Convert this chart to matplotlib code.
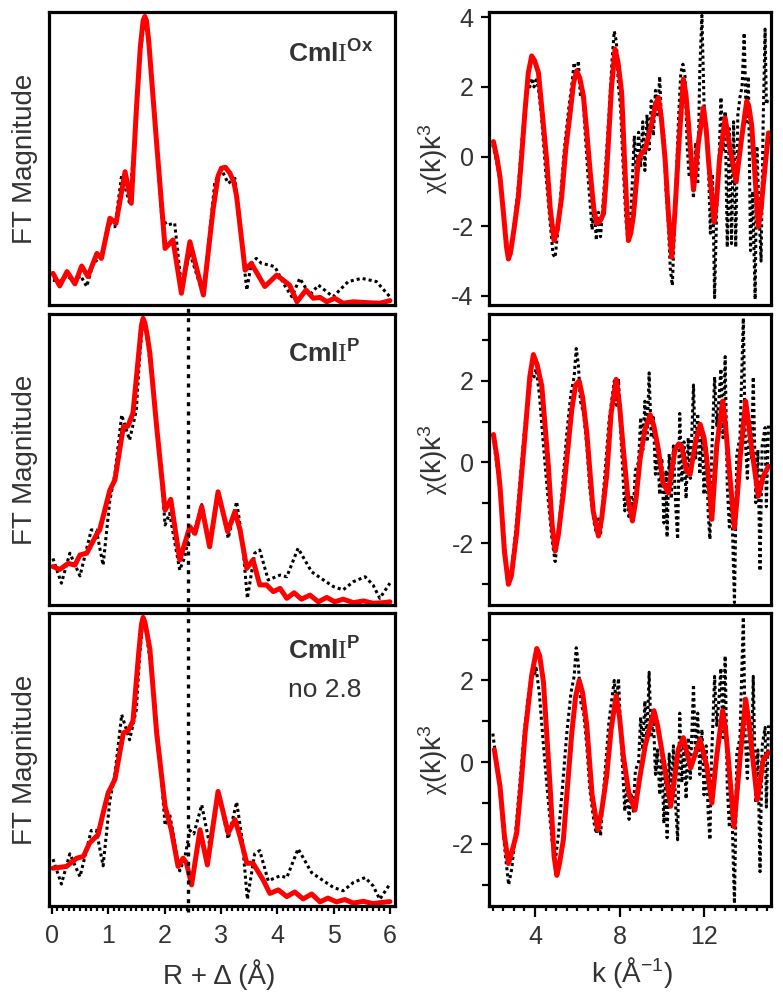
import numpy as np
import matplotlib
matplotlib.use('Agg')
from matplotlib import pyplot as plt
from matplotlib.ticker import MultipleLocator

plt.rcParams['font.family'] = ['Liberation Sans', 'DejaVu Sans']
plt.rcParams['mathtext.fontset'] = 'custom'
plt.rcParams['mathtext.rm'] = 'Liberation Sans'
plt.rcParams['mathtext.bf'] = 'Liberation Sans:bold'
plt.rcParams['mathtext.it'] = 'Liberation Sans:italic'
plt.rcParams['mathtext.sf'] = 'Liberation Serif'
plt.rcParams['axes.unicode_minus'] = False

# ---- FT magnitude (left column), arbitrary units ----
ft_ox_data_r = [0.02, 0.14, 0.27, 0.39, 0.51, 0.62, 0.73, 0.88, 1.0, 1.12, 1.24, 1.38, 1.5, 1.57, 1.65, 1.70,
                1.8, 1.95, 2.04, 2.18, 2.3, 2.45, 2.69, 2.89, 3.0, 3.13, 3.25, 3.34, 3.46, 3.54, 3.63, 3.72,
                3.87, 3.96, 4.11, 4.26, 4.4, 4.58, 4.73, 4.99, 5.26, 5.5, 5.76, 6.0]
ft_ox_data_mag = [0.085, 0.08, 0.10, 0.08, 0.10, 0.063, 0.142, 0.165, 0.279, 0.267, 0.444, 0.347, 0.64, 0.86, 0.984, 0.92,
                  0.72, 0.30, 0.273, 0.279, 0.063, 0.176, 0.034, 0.415, 0.467, 0.415, 0.432, 0.267, 0.051, 0.142, 0.159, 0.142,
                  0.136, 0.13, 0.074, 0.028, 0.091, 0.034, 0.068, 0.028, 0.08, 0.091, 0.08, 0.028]
ft_ox_fit_r = [0.02, 0.14, 0.27, 0.41, 0.53, 0.64, 0.80, 0.88, 1.03, 1.14, 1.30, 1.41, 1.50, 1.57, 1.62, 1.65, 1.68, 1.72,
               1.80, 1.86, 2.01, 2.15, 2.30, 2.45, 2.69, 2.86, 2.95, 3.01, 3.08, 3.16, 3.23, 3.28, 3.43, 3.54, 3.78,
               3.99, 4.22, 4.35, 4.51, 4.64, 4.76, 4.88, 5.02, 5.17, 5.35, 5.59, 5.82, 6.0]
ft_ox_fit_mag = [0.108, 0.065, 0.114, 0.072, 0.133, 0.097, 0.176, 0.159, 0.296, 0.279, 0.455, 0.347, 0.666, 0.88, 0.97, 0.985, 0.97, 0.90,
                 0.70, 0.552, 0.193, 0.222, 0.040, 0.216, 0.034, 0.324, 0.44, 0.467, 0.47, 0.450, 0.42, 0.37, 0.119, 0.142, 0.063,
                 0.102, 0.068, 0.011, 0.051, 0.023, 0.026, 0.011, 0.023, 0.006, 0.011, 0.008, 0.006, 0.015]

ft_p_data_r = [0.02, 0.17, 0.32, 0.50, 0.70, 0.79, 0.91, 1.03, 1.12, 1.24, 1.38, 1.5, 1.56, 1.62, 1.68, 1.77,
               1.92, 2.01, 2.09, 2.27, 2.36, 2.45, 2.52, 2.66, 2.80, 2.95, 3.13, 3.28, 3.38, 3.47, 3.60, 3.69,
               3.84, 4.05, 4.17, 4.37, 4.61, 4.82, 5.0, 5.17, 5.35, 5.56, 5.70, 5.82, 6.0]
ft_p_data_mag = [0.160, 0.075, 0.178, 0.10, 0.258, 0.258, 0.137, 0.36, 0.45, 0.653, 0.567, 0.67, 0.86, 0.985, 0.93, 0.796,
                 0.498, 0.275, 0.315, 0.12, 0.166, 0.258, 0.246, 0.345, 0.21, 0.395, 0.229, 0.355, 0.223, 0.023, 0.178, 0.189,
                 0.086, 0.103, 0.097, 0.195, 0.114, 0.086, 0.063, 0.052, 0.08, 0.097, 0.069, 0.023, 0.075]
ft_p_fit_r = [0.02, 0.14, 0.29, 0.41, 0.50, 0.62, 0.79, 0.85, 1.03, 1.12, 1.27, 1.35, 1.44, 1.54, 1.59, 1.62, 1.65, 1.69,
              1.74, 1.86, 2.01, 2.11, 2.27, 2.45, 2.54, 2.66, 2.80, 2.95, 3.12, 3.25, 3.34, 3.46, 3.57, 3.69, 3.81,
              3.93, 4.05, 4.17, 4.30, 4.43, 4.58, 4.73, 4.88, 5.02, 5.17, 5.35, 5.53, 5.70, 5.88, 6.0]
ft_p_fit_mag = [0.132, 0.122, 0.143, 0.137, 0.172, 0.178, 0.241, 0.258, 0.395, 0.43, 0.613, 0.615, 0.659, 0.86, 0.96, 0.985, 0.97, 0.93,
                0.865, 0.613, 0.326, 0.363, 0.155, 0.269, 0.246, 0.338, 0.20, 0.389, 0.252, 0.321, 0.258, 0.126, 0.155, 0.069, 0.069,
                0.046, 0.057, 0.023, 0.042, 0.02, 0.034, 0.011, 0.026, 0.011, 0.02, 0.008, 0.014, 0.006, 0.008, 0.011]

ft_p28_fit_r = [0.02, 0.26, 0.44, 0.56, 0.67, 0.82, 0.91, 1.0, 1.12, 1.27, 1.35, 1.44, 1.54, 1.59, 1.62, 1.65, 1.69, 1.74, 1.86,
                2.01, 2.12, 2.24, 2.33, 2.39, 2.48, 2.63, 2.76, 2.95, 3.13, 3.25, 3.34, 3.46, 3.57, 3.75, 3.87,
                4.02, 4.17, 4.31, 4.46, 4.61, 4.76, 4.90, 5.05, 5.20, 5.35, 5.53, 5.70, 5.85, 6.0]
ft_p28_fit_mag = [0.129, 0.135, 0.163, 0.169, 0.215, 0.243, 0.317, 0.386, 0.432, 0.591, 0.597, 0.631, 0.86, 0.96, 0.985, 0.97, 0.93, 0.877, 0.591,
                  0.34, 0.26, 0.135, 0.163, 0.146, 0.072, 0.26, 0.14, 0.391, 0.249, 0.295, 0.237, 0.146, 0.146, 0.089, 0.043,
                  0.055, 0.032, 0.048, 0.024, 0.041, 0.014, 0.027, 0.014, 0.022, 0.01, 0.016, 0.008, 0.012, 0.015]

# ---- chi(k)k^3 (right column) ----
chi_ox_data_k = [2.0, 2.2, 2.4, 2.6, 2.75, 2.85, 3.0, 3.2, 3.4, 3.55, 3.65, 3.75, 3.85, 3.95, 4.05, 4.15, 4.3, 4.5,
                 4.7, 4.85, 4.95, 5.05, 5.2, 5.4, 5.6, 5.75, 5.85, 5.95, 6.05, 6.15, 6.25, 6.35, 6.5, 6.6, 6.7, 6.8,
                 6.9, 7.0, 7.1, 7.2, 7.35, 7.5, 7.65, 7.75, 7.85, 7.95, 8.05, 8.15, 8.3, 8.4, 8.5, 8.6, 8.7, 8.8,
                 8.9, 9.0, 9.1, 9.2, 9.3, 9.4, 9.5, 9.6, 9.7, 9.8, 9.9, 10.0, 10.1, 10.2, 10.3, 10.4, 10.5, 10.6,
                 10.7, 10.8, 10.9, 11.0, 11.1, 11.2, 11.3, 11.4, 11.5, 11.6, 11.7, 11.8, 11.9, 12.0, 12.1, 12.2,
                 12.3, 12.4, 12.5, 12.6, 12.7, 12.8, 12.9, 13.0, 13.1, 13.2, 13.3, 13.4, 13.5, 13.6, 13.7, 13.8,
                 13.9, 14.0, 14.1, 14.2, 14.3, 14.42, 14.5, 14.6, 14.7, 14.8, 14.89, 14.95, 15.05]
chi_ox_data = [0.35, -0.2, -0.9, -2.2, -2.9, -2.8, -2.0, -0.9, 0.6, 1.6, 2.2, 2.0, 2.25, 2.0, 2.2, 2.0, 1.2, -0.4,
               -1.8, -2.8, -2.9, -2.3, -1.2, 0.3, 1.4, 2.1, 2.7, 2.2, 2.75, 1.7, 2.0, 0.9, -0.5, -1.3, -2.1, -1.4,
               -2.4, -1.6, -2.3, -1.5, -0.2, 1.2, 2.8, 3.6, 3.3, 2.0, 1.4, 0.0, -1.8, -2.45, -2.0, -0.8, 0.6, -0.6,
               0.7, -0.3, 1.0, -0.4, 1.2, 0.2, 1.6, 0.6, 1.9, 1.2, 2.3, 0.8, 0.6, -1.0, -1.8, -3.2, -3.7, -2.0,
               -0.4, 1.2, 2.4, 2.65, 2.3, 0.3, -0.6, -0.2, -1.2, 0.4, -0.8, 2.5, 4.05, 1.5, 0.8, -0.1,
               -2.2, -0.5, -4.05, -1.5, -0.3, 1.7, 0.2, 1.3, -2.6, 0.8, -2.5, 1.0, -2.6, 1.2, 1.7, 2.0,
               3.55, 1.0, 2.3, -2.7, -1.0, -4.1, 0.3, -1.5, -3.0, 1.0, 3.66, 1.5, 1.7]
chi_ox_fit_k = [2.03, 2.20, 2.34, 2.50, 2.65, 2.74, 2.84, 3.00, 3.21, 3.35, 3.53, 3.68, 3.84, 3.98, 4.16, 4.35,
                4.55, 4.72, 4.90, 5.05, 5.26, 5.45, 5.66, 5.82, 5.97, 6.12, 6.29, 6.45, 6.60, 6.78, 6.92, 7.08,
                7.24, 7.35, 7.47, 7.62, 7.79, 7.93, 8.10, 8.25, 8.42, 8.53, 8.65, 8.89, 9.05, 9.21, 9.53, 9.70,
                9.84, 9.98, 10.16, 10.32, 10.47, 10.62, 10.79, 11.02, 11.14, 11.26, 11.50, 11.73, 11.97, 12.10,
                12.21, 12.48, 12.60, 12.73, 13.0, 13.24, 13.52, 13.79, 14.02, 14.12, 14.26, 14.57, 14.70, 14.81, 15.05]
chi_ox_fit = [0.43, -0.05, -0.58, -1.6, -2.6, -2.94, -2.75, -2.1, -1.16, -0.1, 1.35, 2.4, 2.89, 2.75, 2.41, 1.2,
              -0.1, -1.5, -2.41, -2.1, -1.16, 0.2, 1.25, 2.1, 2.46, 2.25, 1.73, 0.7, -0.38, -1.5, -1.92, -1.85,
              -1.64, -0.8, 0.39, 2.0, 3.08, 2.7, 1.83, -0.3, -2.41, -2.2, -1.73, -0.1, 0.1, 0.19, 0.97, 1.5,
              1.69, 1.1, -0.1, -1.7, -2.89, -1.6, 0.19, 2.22, 1.8, 0.97, -0.96, 0.39, 1.40, 0.8,
              -0.1, -1.88, -1.2, -0.1, 1.11, 0.19, -0.72, 0.58, 1.59, 1.45, 0.87, -2.02, -1.5, -0.77, 0.68]

chi_p_data_k = [2.0, 2.3, 2.6, 2.75, 2.9, 3.1, 3.3, 3.5, 3.7, 3.85, 3.95, 4.05, 4.2, 4.4, 4.6, 4.8, 4.95, 5.1,
                5.3, 5.5, 5.7, 5.85, 5.95, 6.05, 6.15, 6.3, 6.45, 6.6, 6.8, 6.9, 7.0, 7.1, 7.2, 7.35, 7.5, 7.65,
                7.75, 7.85, 7.95, 8.05, 8.15, 8.25, 8.35, 8.45, 8.55, 8.65, 8.75, 8.9, 9.0, 9.1, 9.2, 9.3, 9.4,
                9.5, 9.6, 9.7, 9.8, 9.9, 10.0, 10.1, 10.2, 10.25, 10.35, 10.45, 10.55, 10.65, 10.75, 10.85, 10.95,
                11.05, 11.15, 11.25, 11.35, 11.5, 11.6, 11.7, 11.8, 11.9, 12.0, 12.1, 12.2, 12.28, 12.35, 12.5,
                12.6, 12.7, 12.8, 12.9, 13.0, 13.1, 13.2, 13.3, 13.44, 13.55, 13.7, 13.86, 13.95, 14.05, 14.15,
                14.25, 14.33, 14.45, 14.55, 14.65, 14.75, 14.89, 14.95, 15.05]
chi_p_data = [0.7, -0.5, -2.3, -3.0, -2.6, -1.6, -0.4, 0.8, 1.7, 2.2, 2.1, 2.3, 1.7, 0.4, -0.8, -1.9, -2.45, -1.8,
              -0.6, 0.7, 1.7, 2.1, 2.8, 2.4, 1.5, 1.2, 0.4, -0.7, -1.5, -1.75, -1.4, -1.8, -1.0, 0.0, 1.0, 1.6,
              2.0, 1.4, 2.05, 0.8, -0.2, -1.2, -0.5, -1.4, -0.8, -1.2, -0.2, 0.0, 1.1, 0.3, 1.5, 0.5, 2.2,
              0.6, 1.1, -0.3, 0.3, -0.8, 0.1, -1.5, -0.2, -1.85, 0.2, -0.9, 0.4, -1.0, -1.9, 1.2, -0.5,
              0.5, -0.9, 0.6, -0.4, 1.9, 0.1, 1.2, -0.3, 0.8, -0.8, 0.4, -1.3, -1.9, 0.0, 2.1,
              0.9, 1.5, 2.3, 0.6, 2.6, -0.6, -1.6, -0.8, -3.46, 0.2, 0.6, 3.55, 0.6, -0.4, 1.0,
              0.1, 2.1, -1.0, 0.3, -2.68, 0.4, 0.85, -1.1, 0.9]
chi_p_fit_k = [2.03, 2.20, 2.34, 2.55, 2.74, 2.88, 3.13, 3.33, 3.53, 3.75, 3.92, 4.10, 4.32, 4.63, 4.80, 4.95,
               5.10, 5.34, 5.74, 5.92, 6.09, 6.25, 6.45, 6.75, 7.0, 7.15, 7.39, 7.60, 7.84, 8.0, 8.18, 8.40,
               8.61, 8.78, 8.97, 9.20, 9.45, 9.62, 9.84, 10.05, 10.31, 10.47, 10.63, 10.80, 10.95, 11.15, 11.34,
               11.60, 11.82, 12.0, 12.13, 12.37, 12.60, 12.88, 13.02, 13.15, 13.44, 13.58, 13.70, 13.97, 14.1,
               14.26, 14.57, 14.81, 15.05]
chi_p_fit = [0.68, 0.1, -0.59, -2.2, -3.01, -2.8, -1.74, -0.5, 0.72, 2.1, 2.65, 2.4, 1.87, -0.1, -1.5, -2.19,
             -1.8, -0.76, 1.30, 1.9, 2.0, 1.6, 0.72, -1.2, -1.82, -1.4, -0.34, 1.2, 2.04, 1.4, 0.31, -0.9,
             -1.45, -0.9, 0.07, 0.8, 1.17, 0.9, 0.31, -0.5, -0.76, -0.2, 0.31, 0.45, 0.39, -0.2, -0.3,
             0.5, 0.93, 0.6, 0.07, -1.41, 0.39, 1.5, 0.9, 0.07, -1.62, -0.8, 0.07, 1.5, 1.0,
             0.31, -0.84, -0.34, -0.1]

chi_p28_fit_k = [2.07, 2.34, 2.55, 2.74, 2.90, 3.13, 3.33, 3.53, 3.84, 4.08, 4.22, 4.40, 4.71, 4.90, 5.03, 5.15,
                 5.34, 5.55, 5.74, 5.92, 6.09, 6.25, 6.45, 6.70, 6.97, 7.15, 7.39, 7.60, 7.84, 8.0, 8.18, 8.45,
                 8.73, 8.95, 9.21, 9.63, 9.80, 10.07, 10.42, 10.60, 10.78, 11.02, 11.20, 11.37, 11.81, 12.13,
                 12.37, 12.60, 12.88, 13.02, 13.15, 13.42, 13.55, 13.70, 13.97, 14.12, 14.26, 14.52, 14.81, 15.05]
chi_p28_fit = [0.31, -0.59, -1.8, -2.48, -2.2, -1.74, -0.6, 0.72, 2.12, 2.78, 2.6, 1.95, -0.59, -2.3, -2.77, -2.5,
               -1.90, -0.5, 0.72, 1.6, 2.0, 1.7, 0.89, -0.8, -1.66, -1.2, -0.34, 0.8, 1.63, 1.1, 0.15, -0.8,
               -1.17, -0.4, 0.39, 1.26, 0.9, 0.07, -1.08, -0.4, 0.31, 0.6, 0.2, -0.14, 0.56, -0.1,
               -1.0, 0.15, 1.26, 0.8, 0.07, -1.58, -0.8, 0.07, 1.54, 1.0, 0.31, -0.92, 0.07, 0.23]

shell_cut = 2.42
text_col = '#333333'
W, H = 783, 999

fig = plt.figure(figsize=(W / 100, H / 100), dpi=100)

rows = [(12, 305), (314, 605), (613, 906)]


def rect(x0, x1, row):
    top, bot = row
    return [x0 / W, 1 - bot / H, (x1 - x0) / W, (bot - top) / H]


def style(ax):
    for s in ax.spines.values():
        s.set_linewidth(2.3)
        s.set_color('black')
    ax.tick_params(which='both', direction='out', width=1.6, color='black',
                   labelsize=18, labelcolor=text_col)
    ax.tick_params(which='major', length=6)
    ax.tick_params(which='minor', length=3.5)


left_data = [(ft_ox_data_r, ft_ox_data_mag, ft_ox_fit_r, ft_ox_fit_mag),
             (ft_p_data_r, ft_p_data_mag, ft_p_fit_r, ft_p_fit_mag),
             (ft_p_data_r, ft_p_data_mag, ft_p28_fit_r, ft_p28_fit_mag)]
right_data = [(chi_ox_data_k, chi_ox_data, chi_ox_fit_k, chi_ox_fit),
              (chi_p_data_k, chi_p_data, chi_p_fit_k, chi_p_fit),
              (chi_p_data_k, chi_p_data, chi_p28_fit_k, chi_p28_fit)]
names = [r'$\mathbf{Cml}\mathsf{I}^{\mathbf{Ox}}$',
         r'$\mathbf{Cml}\mathsf{I}^{\mathbf{P}}$',
         r'$\mathbf{Cml}\mathsf{I}^{\mathbf{P}}$']
name_y = [0.829, 0.832, 0.842]

for i in range(3):
    # FT panel
    ax = fig.add_axes(rect(49, 395, rows[i]))
    dr, dm, fr, fm = left_data[i]
    ax.plot(dr, dm, color='black', lw=2.2, ls=(0, (1, 1)))
    ax.plot(fr, fm, color='red', lw=3.6, solid_joinstyle='round', solid_capstyle='round')
    ax.set_xlim(-0.05, 6.09)
    ax.set_ylim(0, 1)
    ax.set_yticks([])
    style(ax)
    if i > 0:
        ax.axvline(shell_cut, ymin=-0.02, ymax=1.02, clip_on=False,
                   color='black', lw=2.4, ls=(0, (1.2, 1.6)))
    ax.text(0.69, name_y[i], names[i], transform=ax.transAxes, fontsize=19,
            color=text_col, ha='left', va='baseline')
    if i == 2:
        ax.text(0.69, 0.712, 'no 2.8', transform=ax.transAxes, fontsize=19,
                color=text_col, ha='left', va='baseline')
        ax.xaxis.set_major_locator(MultipleLocator(1))
        ax.xaxis.set_minor_locator(MultipleLocator(0.1))
        ax.tick_params(axis='x', which='major', pad=7)
    else:
        ax.set_xticks([])
    fig.text(25 / W, 1 - (rows[i][0] + rows[i][1]) / 2 / H, 'FT Magnitude', rotation=90,
             fontsize=20, color=text_col, ha='center', va='center')

    # chi panel
    ax2 = fig.add_axes(rect(489, 771, rows[i]))
    dk, dc, fk, fc = right_data[i]
    ax2.plot(dk, dc, color='black', lw=2.2, ls=(0, (1, 1)))
    ax2.plot(fk, fc, color='red', lw=3.6, solid_joinstyle='round', solid_capstyle='round')
    ax2.set_xlim(1.82, 15.17)
    style(ax2)
    if i == 0:
        ax2.set_ylim(-4.26, 4.15)
        ax2.set_yticks([-4, -2, 0, 2, 4])
    else:
        ax2.set_ylim(-3.52, 3.65)
        ax2.set_yticks([-2, 0, 2])
        ax2.yaxis.set_minor_locator(MultipleLocator(1))
        ax2.tick_params(axis='y', which='minor', length=5)
    ax2.tick_params(axis='y', which='major', length=6, pad=5)
    if i == 2:
        ax2.set_xticks([4, 8, 12])
        ax2.xaxis.set_minor_locator(MultipleLocator(0.5))
        ax2.tick_params(axis='x', which='major', length=8, pad=6)
    else:
        ax2.set_xticks([])
    fig.text(433 / W, 1 - (rows[i][0] + rows[i][1]) / 2 / H, r'$\mathsf{\chi}$(k)k$^{3}$', rotation=90,
             fontsize=20, color=text_col, ha='center', va='center')

fig.text(219 / W, 1 - 975 / H, 'R + Δ (Å)', fontsize=20, color=text_col,
         ha='center', va='center')
fig.text(632 / W, 1 - 972 / H, r'k (Å$^{-1}$)', fontsize=20, color=text_col,
         ha='center', va='center')

fig.savefig('out.png', dpi=100)
